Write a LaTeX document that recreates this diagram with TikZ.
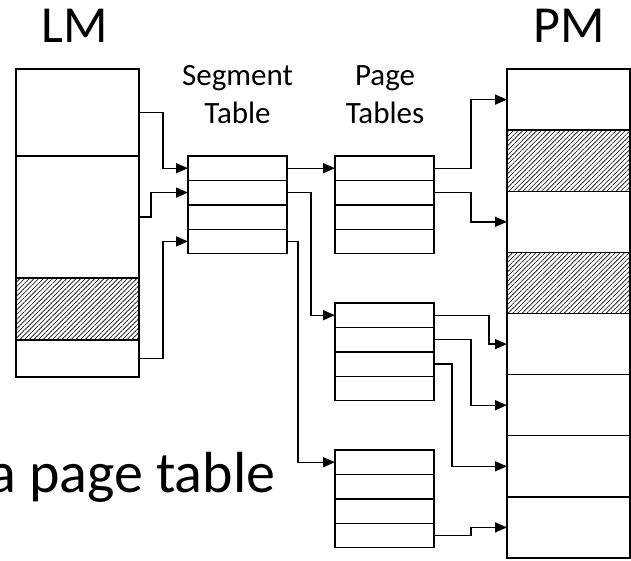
\documentclass[tikz,border=0pt]{standalone}
\usepackage{fontspec}
\setmainfont{Carlito}
\usetikzlibrary{arrows.meta,patterns.meta}
\begin{document}
\begin{tikzpicture}[x=1pt,y=-1pt,
  line width=1.4pt,
  cell/.style={draw, inner sep=0pt, outer sep=0pt, minimum width=99pt, minimum height=24.4pt},
  lmcell/.style={draw, inner sep=0pt, outer sep=0pt, minimum width=123pt},
  pmcell/.style={draw, inner sep=0pt, outer sep=0pt, minimum width=123pt, minimum height=61.1pt},
  hatch/.style={pattern={Lines[angle=45,distance=3.3pt,line width=0.6pt]}},
  arr/.style={-{Triangle[length=12pt,width=10pt]}},
  bigtxt/.style={font=\fontsize{52}{60}\selectfont, inner sep=0pt, anchor=base},
  ttl/.style={font=\fontsize{31}{38}\selectfont, inner sep=0pt, align=center, anchor=base}
]
\useasboundingbox[fill=white] (0,0) rectangle (631,560);

% titles
\node[bigtxt] (lmt) at (75,42) {LM};
\node[bigtxt] (pmt) at (569,42) {PM};
\node[ttl] (stt) at (237.5,123) {Segment\\Table};
\node[ttl] (ptt) at (385,123) {Page\\Tables};
\node[bigtxt, font=\fontsize{58}{66}\selectfont, anchor=base east] (bot) at (276,492) {a page table};

% logical memory
\node[lmcell, minimum height=87pt] (lm1) at (77.5,112.5) {};
\node[lmcell, minimum height=122pt] (lm2) at (77.5,217) {};
\node[lmcell, minimum height=62pt, hatch] (lm3) at (77.5,309) {};
\node[lmcell, minimum height=37pt] (lm4) at (77.5,358.5) {};

% segment table
\node[cell] (st1) at (237.5,168.2) {};
\node[cell] (st2) at (237.5,192.6) {};
\node[cell] (st3) at (237.5,217.0) {};
\node[cell] (st4) at (237.5,241.4) {};

% page table 1
\node[cell] (pa1) at (384.5,168.2) {};
\node[cell] (pa2) at (384.5,192.6) {};
\node[cell] (pa3) at (384.5,217.0) {};
\node[cell] (pa4) at (384.5,241.4) {};

% page table 2
\node[cell] (pb1) at (384.5,315.2) {};
\node[cell] (pb2) at (384.5,339.6) {};
\node[cell] (pb3) at (384.5,364.0) {};
\node[cell] (pb4) at (384.5,388.4) {};

% page table 3
\node[cell] (pc1) at (384.5,462.2) {};
\node[cell] (pc2) at (384.5,486.6) {};
\node[cell] (pc3) at (384.5,511.0) {};
\node[cell] (pc4) at (384.5,535.4) {};

% physical memory
\node[pmcell] (pm1) at (568.5,99.6) {};
\node[pmcell, hatch] (pm2) at (568.5,160.7) {};
\node[pmcell] (pm3) at (568.5,221.8) {};
\node[pmcell, hatch] (pm4) at (568.5,282.9) {};
\node[pmcell] (pm5) at (568.5,344.1) {};
\node[pmcell] (pm6) at (568.5,405.2) {};
\node[pmcell] (pm7) at (568.5,466.3) {};
\node[pmcell] (pm8) at (568.5,527.4) {};

% LM -> segment table
\draw[arr] (lm1.east) -- ++(24,0) |- (st1.west);
\draw[arr] (lm2.east) -- ++(12,0) |- (st2.west);
\draw[arr] (lm4.east) -- ++(24,0) |- (st4.west);

% segment table -> page tables
\draw[arr] (st1.east) -- (pa1.west);
\draw[arr] (st2.east) -- ++(24,0) |- (pb1.west);
\draw[arr] (st4.east) -- ++(11,0) |- (pc1.west);

% page tables -> PM
\draw[arr] (pa1.east) -- ++(37,0) |- (pm1.west);
\draw[arr] (pa2.east) -- ++(37,0) |- (pm3.west);
\draw[arr] (pb1.east) -- ++(55,0) |- (pm5.west);
\draw[arr] (pb2.east) -- ++(37,0) |- (pm6.west);
\draw[arr] (pb3.east) -- ++(18,0) |- (pm7.west);
\draw[arr] (pc4.east) -- ++(37,0) |- (pm8.west);
\end{tikzpicture}
\end{document}
